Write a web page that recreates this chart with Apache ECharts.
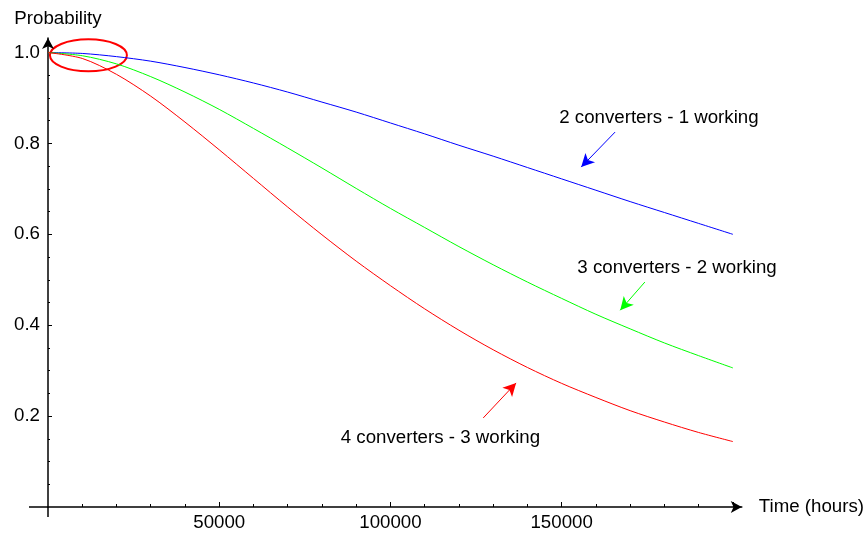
<!DOCTYPE html>
<html>
<head>
<meta charset="utf-8">
<script src="https://cdn.jsdelivr.net/npm/echarts@6/dist/echarts.min.js"></script>
<style>
    html, body { margin: 0; padding: 0; background: #fff; }
    #chart { width: 867px; height: 533px; }
</style>
</head>
<body>
<div id="chart"></div>
<script>
// time axis (hours) and the three reliability curves
var hours = [0, 10000, 20000, 30000, 40000, 50000, 60000, 70000, 80000, 90000, 100000,
    110000, 120000, 130000, 140000, 150000, 160000, 170000, 180000, 190000, 200000];

var twoConv = [1.000, 0.998, 0.991, 0.981, 0.967, 0.951, 0.933, 0.913, 0.891, 0.869, 0.845,
    0.821, 0.796, 0.772, 0.747, 0.722, 0.697, 0.672, 0.648, 0.624, 0.600];
var threeConv = [1.000, 0.993, 0.975, 0.947, 0.913, 0.875, 0.833, 0.790, 0.746, 0.701, 0.657,
    0.615, 0.573, 0.533, 0.495, 0.459, 0.424, 0.392, 0.361, 0.333, 0.306];
var fourConv = [1.000, 0.987, 0.952, 0.904, 0.847, 0.786, 0.723, 0.660, 0.599, 0.541, 0.487,
    0.436, 0.389, 0.346, 0.307, 0.272, 0.241, 0.212, 0.187, 0.164, 0.144];

var xMajor = [50000, 100000, 150000, 200000];
var xLabels = [50000, 100000, 150000];
var xMinor = [10000, 20000, 30000, 40000, 60000, 70000, 80000, 90000, 110000, 120000,
    130000, 140000, 160000, 170000, 180000, 190000];
var yMajor = [0.2, 0.4, 0.6, 0.8, 1.0];
var yMinor = [0.05, 0.1, 0.15, 0.25, 0.3, 0.35, 0.45, 0.5, 0.55, 0.65, 0.7, 0.75, 0.85, 0.9, 0.95];

var names = ['2 converters - 1 working', '3 converters - 2 working', '4 converters - 3 working'];
var colors = ['#0000ff', '#00ff00', '#ff0000'];
// annotation text centre, arrow start, arrow tip (data coords)
var textAt = [[178400, 0.856], [183700, 0.526], [114600, 0.152]];
var arrowFrom = [[165600, 0.825], [174300, 0.495], [127100, 0.196]];
var arrowTo = [[155700, 0.748], [167100, 0.433], [136700, 0.273]];
var circleAt = [11800, 0.994];

var FONT = '"Liberation Sans", Arial, Helvetica, sans-serif';
var FS = 18.7;

function pairs(ys) {
    var out = [];
    for (var i = 0; i < hours.length; i++) {
        out.push([hours[i], ys[i]]);
    }
    return out;
}

var curves = [twoConv, threeConv, fourConv];
var series = [];
for (var i = 0; i < 3; i++) {
    series.push({
        name: names[i],
        type: 'line',
        xAxisIndex: 0,
        yAxisIndex: 0,
        data: pairs(curves[i]),
        showSymbol: false,
        smooth: 0.3,
        lineStyle: { color: colors[i], width: 1 },
        markLine: {
            silent: true,
            symbol: ['none', 'arrow'],
            symbolSize: [10, 13],
            label: { show: false },
            lineStyle: { color: colors[i], width: 1, type: 'solid' },
            data: [[{ coord: arrowFrom[i] }, { coord: arrowTo[i] }]]
        }
    });
}

var xMax = 202600;
var yMax = 1.032;

var chart = echarts.init(document.getElementById('chart'));

chart.setOption({
    animation: false,
    backgroundColor: '#ffffff',
    textStyle: { fontFamily: FONT },
    grid: { left: 48, right: 124, top: 38, bottom: 26, containLabel: false },
    xAxis: [{
        type: 'value',
        min: 0,
        max: xMax,
        position: 'bottom',
        name: 'Time (hours)',
        nameLocation: 'end',
        nameGap: 17,
        nameTextStyle: { color: '#000', fontSize: FS, fontFamily: FONT },
        splitLine: { show: false },
        axisLine: {
            onZero: false,
            symbol: ['none', 'arrow'],
            symbolSize: [9, 11],
            lineStyle: { color: '#000', width: 1.5 }
        },
        axisTick: { inside: true, length: 5, customValues: xMajor, lineStyle: { color: '#000' } },
        axisLabel: {
            customValues: xLabels,
            color: '#000',
            fontSize: FS,
            margin: 6,
            fontFamily: FONT,
            formatter: function (v) { return String(v); }
        }
    }, {
        type: 'value',
        min: 0,
        max: xMax,
        position: 'bottom',
        splitLine: { show: false },
        axisLine: { show: false, onZero: false },
        axisTick: { inside: true, length: 3, customValues: xMinor, lineStyle: { color: '#000' } },
        axisLabel: { show: false }
    }],
    yAxis: [{
        type: 'value',
        min: 0,
        max: yMax,
        position: 'left',
        name: 'Probability',
        nameLocation: 'end',
        nameGap: 10,
        nameTextStyle: { color: '#000', fontSize: FS, fontFamily: FONT, align: 'center', padding: [0, 0, 0, 20] },
        splitLine: { show: false },
        axisLine: {
            onZero: false,
            symbol: ['none', 'arrow'],
            symbolSize: [9, 11],
            lineStyle: { color: '#000', width: 1.5 }
        },
        axisTick: { inside: true, length: 4, customValues: yMajor, lineStyle: { color: '#000' } },
        axisLabel: {
            customValues: yMajor,
            color: '#000',
            fontSize: FS,
            margin: 8,
            fontFamily: FONT,
            formatter: function (v) { return v.toFixed(1); }
        }
    }, {
        type: 'value',
        min: 0,
        max: yMax,
        position: 'left',
        splitLine: { show: false },
        axisLine: { show: false, onZero: false },
        axisTick: { inside: true, length: 2, customValues: yMinor, lineStyle: { color: '#000' } },
        axisLabel: { show: false }
    }],
    series: series
});

// annotation texts, the red ring near t=0 and the little axis stubs past the origin
function px(pt) {
    return chart.convertToPixel({ xAxisIndex: 0, yAxisIndex: 0 }, pt);
}

var graphics = [];
for (var j = 0; j < 3; j++) {
    var p = px(textAt[j]);
    graphics.push({
        type: 'text',
        x: p[0],
        y: p[1],
        style: {
            text: names[j],
            fill: '#000',
            font: FS + 'px ' + FONT,
            textAlign: 'center',
            textVerticalAlign: 'middle'
        }
    });
}
var c = px(circleAt);
graphics.push({
    type: 'ellipse',
    shape: { cx: c[0], cy: c[1], rx: 38.5, ry: 16 },
    style: { fill: 'none', stroke: '#ff0000', lineWidth: 2 }
});
var o = px([0, 0]);
graphics.push({
    type: 'line',
    shape: { x1: o[0] - 19, y1: o[1], x2: o[0], y2: o[1] },
    style: { stroke: '#000', lineWidth: 1.5 }
});
graphics.push({
    type: 'line',
    shape: { x1: o[0], y1: o[1], x2: o[0], y2: o[1] + 10 },
    style: { stroke: '#000', lineWidth: 1.5 }
});

chart.setOption({ graphic: graphics });
</script>
</body>
</html>
